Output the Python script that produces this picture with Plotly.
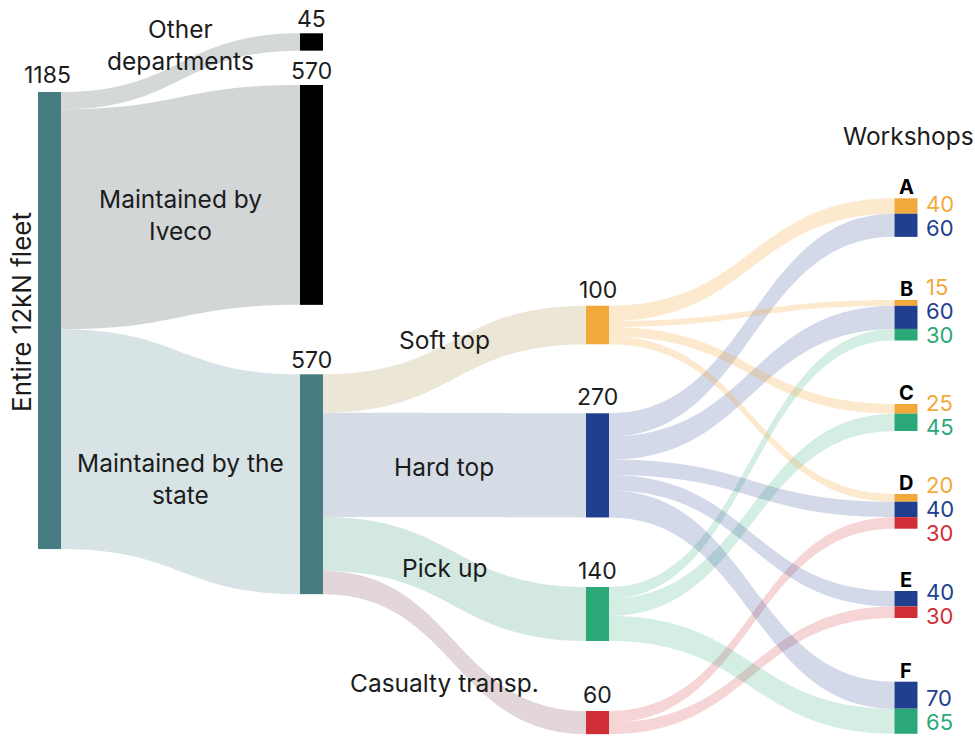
import plotly.graph_objects as go

# ---------------- data ----------------
fleet_label = "Entire 12kN fleet"
ownership = ["Other departments", "Maintained by Iveco", "Maintained by the state"]
ownership_counts = [45, 570, 570]

body_types = ["Soft top", "Hard top", "Pick up", "Casualty transp."]
workshops = ["A", "B", "C", "D", "E", "F"]
# vehicles of each body type serviced by workshops A..F
soft_top = [40, 15, 25, 20, 0, 0]
hard_top = [60, 60, 0, 40, 40, 70]
pick_up = [0, 30, 45, 0, 0, 65]
casualty_transp = [0, 0, 0, 30, 30, 0]

# ---------------- styling / layout ----------------
W, H = 975, 737
KY = 0.3857          # pixels per vehicle
NODE_PAD = 10
THICK = 23
FONT = "Inter"
TEXT = "#1c1c1c"
LABEL_SIZE = 24.5
FLEET_SIZE = 26
NUM_SIZE = 23
WS_STEP_SIZE = 18.5  # base size of the stacked counts (line step = 1.3 * size)
WS_GLYPH_SIZE = 22   # drawn size of those counts

TEAL = "#467c82"
BLACK = "#000000"
type_colors = ["#f2a83a", "#213f8f", "#2aa878", "#d12f37"]
type_link_colors = ["rgba(242,168,58,0.25)", "rgba(33,63,143,0.2)",
                    "rgba(42,168,120,0.2)", "rgba(209,47,55,0.2)"]
own_node_colors = [BLACK, BLACK, TEAL]
own_link_colors = ["#d4d8d9", "#d2d6d7", "#d8e3e5"]
state_link_colors = ["#ece6d6", "#d5dce6", "#d4e8e2", "#e3d6d9"]

col_x = [49.5, 311.5, 597.5, 906]        # node centres (px)
fleet_top = 92
own_tops = [33.3, 85, 374.3]
body_tops = [305.7, 413.3, 587, 711]
ws_tops = [198.3, 300, 404, 494, 591, 681.7]
ws_label_nudge = [-2, -9, -2, -2, 0, 2]

type_rows = [soft_top, hard_top, pick_up, casualty_transp]
fleet_total = sum(ownership_counts)
body_totals = [sum(r) for r in type_rows]

node_color, node_x, node_y = [], [], []
tops, heights = [], []


def add_node(color, cx, top, value):
    node_color.append(color)
    node_x.append(cx / W)
    node_y.append((top + value * KY / 2) / H)
    tops.append(top)
    heights.append(value * KY)
    return len(node_color) - 1


src, tgt, val, lcol = [], [], [], []


def add_link(s, t, v, c):
    src.append(s)
    tgt.append(t)
    val.append(v)
    lcol.append(c)


fleet = add_node(TEAL, col_x[0], fleet_top, fleet_total)
own_nodes = [add_node(own_node_colors[i], col_x[1], own_tops[i], ownership_counts[i])
             for i in range(len(ownership))]
for i, n in enumerate(own_nodes):
    add_link(fleet, n, ownership_counts[i], own_link_colors[i])

state = own_nodes[2]
body_nodes = [add_node(type_colors[j], col_x[2], body_tops[j], body_totals[j])
              for j in range(len(body_types))]
for j, n in enumerate(body_nodes):
    add_link(state, n, body_totals[j], state_link_colors[j])

ws_parts = []   # (workshop index, type index, value, node index)
for w in range(len(workshops)):
    top = ws_tops[w]
    for j in range(len(body_types)):
        v = type_rows[j][w]
        if v:
            n = add_node(type_colors[j], col_x[3], top, v)
            add_link(body_nodes[j], n, v, type_link_colors[j])
            ws_parts.append((w, j, v, n))
            top += v * KY

# transparent spacer pair: sets the vertical scale of the diagram to KY
spacer_value = (H - 3 * NODE_PAD) / KY - fleet_total
sp_a = len(node_color)
node_color += ["rgba(0,0,0,0)", "rgba(0,0,0,0)"]
add_link(sp_a, sp_a + 1, spacer_value, "rgba(0,0,0,0)")

fig = go.Figure(go.Sankey(
    arrangement="fixed",
    domain=dict(x=[0, 1], y=[0, 1]),
    node=dict(label=[""] * len(node_color), color=node_color, x=node_x, y=node_y,
              pad=NODE_PAD, thickness=THICK, line=dict(width=0), align="left",
              hoverinfo="none"),
    link=dict(source=src, target=tgt, value=val, color=lcol, hoverinfo="none"),
))

ann = []


def text(x, y, s, size=LABEL_SIZE, color=TEXT, **kw):
    d = dict(x=x / W, y=1 - y / H, xref="paper", yref="paper", text=s,
             showarrow=False, font=dict(family=FONT, size=size, color=color),
             xanchor="center", yanchor="middle")
    d.update(kw)
    ann.append(d)


# node totals above nodes
text(col_x[0] - 2, fleet_top - 17, f"{fleet_total}", NUM_SIZE)
for i, n in enumerate(own_nodes):
    text(col_x[1], tops[n] - 14, f"{ownership_counts[i]}", NUM_SIZE)
for j, n in enumerate(body_nodes):
    text(col_x[2], tops[n] - 16, f"{body_totals[j]}", NUM_SIZE)

# flow labels
text(21, 312, fleet_label, FLEET_SIZE, textangle=-90)
own_label_pos = [(180, 45), (180, 215), (180, 479)]
own_label_text = ["Other<br>departments", "Maintained by<br>Iveco", "Maintained by the<br>state"]
for (x, y), s in zip(own_label_pos, own_label_text):
    text(x, y, s)
body_label_y = [340, 467, 568, 683]
for j, s in enumerate(body_types):
    text(444, body_label_y[j], s)

# workshops: letter above each stack, coloured counts beside it
text(908, 136, "Workshops")
for w, name in enumerate(workshops):
    parts = [p for p in ws_parts if p[0] == w]
    total = sum(p[2] for p in parts)
    centre = ws_tops[w] + total * KY / 2
    text(col_x[3], ws_tops[w] - 11, f"<b>{name}</b>", 20, color="#000000")
    stack = "<br>".join(
        f'<span style="color:{type_colors[j]};font-size:{WS_GLYPH_SIZE}px">{v}</span>'
        for (_, j, v, _) in parts)
    text(925, centre + ws_label_nudge[w], stack, WS_STEP_SIZE, xanchor="left",
         align="left", borderpad=0)

fig.update_layout(
    width=W, height=H, margin=dict(l=0, r=0, t=0, b=0),
    paper_bgcolor="white", plot_bgcolor="white",
    font=dict(family=FONT, color=TEXT),
    annotations=ann,
)
fig.write_html("out.html")
